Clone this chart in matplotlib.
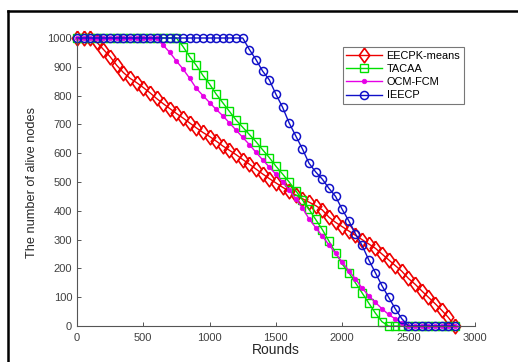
import numpy as np
import matplotlib
matplotlib.use('Agg')
from matplotlib import pyplot as plt
from matplotlib.lines import Line2D

# rounds sampled every 50 rounds (0 .. 2850)
rounds = [0, 50, 100, 150, 200, 250, 300, 350, 400, 450,
          500, 550, 600, 650, 700, 750, 800, 850, 900, 950,
          1000, 1050, 1100, 1150, 1200, 1250, 1300, 1350, 1400, 1450,
          1500, 1550, 1600, 1650, 1700, 1750, 1800, 1850, 1900, 1950,
          2000, 2050, 2100, 2150, 2200, 2250, 2300, 2350, 2400, 2450,
          2500, 2550, 2600, 2650, 2700, 2750, 2800, 2850]

eecpk = [1000, 1000, 1000, 985, 960, 935, 905, 880, 860, 845,
         828, 810, 790, 772, 755, 738, 722, 705, 688, 672,
         658, 642, 625, 610, 595, 578, 562, 545, 528, 512,
         497, 482, 468, 455, 442, 430, 418, 403, 378, 360,
         345, 330, 315, 300, 285, 270, 250, 230, 210, 190,
         165, 145, 122, 100, 78, 55, 30, 0]

tacaa = [1000, 1000, 1000, 1000, 1000, 1000, 1000, 1000, 1000, 1000,
         1000, 1000, 1000, 1000, 1000, 1000, 970, 935, 905, 870,
         840, 805, 775, 745, 715, 690, 665, 640, 612, 585,
         555, 528, 500, 470, 438, 405, 370, 335, 295, 255,
         215, 185, 150, 115, 80, 45, 15, 0, 0, 0,
         0, 0, 0, 0, 0, 0, 0, 0]

ocm_fcm = [1000, 1000, 1000, 1000, 1000, 1000, 1000, 1000, 1000, 1000,
           1000, 1000, 1000, 975, 950, 920, 892, 860, 825, 800,
           776, 752, 730, 705, 680, 655, 630, 603, 577, 552,
           527, 500, 472, 442, 410, 372, 342, 312, 282, 252,
           222, 192, 163, 132, 105, 82, 60, 40, 25, 10,
           0, 0, 0, 0, 0, 0, 0, 0]

ieecp = [1000, 1000, 1000, 1000, 1000, 1000, 1000, 1000, 1000, 1000,
         1000, 1000, 1000, 1000, 1000, 1000, 1000, 1000, 1000, 1000,
         1000, 1000, 1000, 1000, 1000, 1000, 960, 925, 885, 855,
         805, 760, 705, 660, 615, 565, 535, 510, 478, 450,
         405, 365, 320, 280, 230, 185, 140, 100, 60, 25,
         0, 0, 0, 0, 0, 0, 0, 0]

labels = ['EECPK-means', 'TACAA', 'OCM-FCM', 'IEECP']

plt.rcParams['font.family'] = ['Liberation Sans', 'DejaVu Sans']

# slightly tall diamond, like the stretched MATLAB marker
tall_diamond = [(0, 1), (0.72, 0), (0, -1), (-0.72, 0), (0, 1)]

fig = plt.figure(figsize=(5.18, 3.62), dpi=100)
ax = fig.add_axes([0.1486, 0.0994, 0.768, 0.7956])

ax.plot(rounds, eecpk, color='#ee0000', marker=tall_diamond, markersize=10.5, fillstyle='none',
        markeredgewidth=1.2, linewidth=1.0, label=labels[0], clip_on=False)
ax.plot(rounds, tacaa, color='#00e000', marker='s', markersize=5.5, fillstyle='none',
        markeredgewidth=1.0, linewidth=1.0, label=labels[1], clip_on=False)
ax.plot(rounds, ocm_fcm, color='#e600e6', marker='o', markersize=3.3,
        markeredgewidth=0.5, linewidth=1.0, label=labels[2], clip_on=False)
ax.plot(rounds, ieecp, color='#1010c8', marker='o', markersize=5.8, fillstyle='none',
        markeredgewidth=1.1, linewidth=1.0, label=labels[3], clip_on=False)

ax.set_xlim(0, 3000)
ax.set_ylim(0, 1000)
ax.set_xticks([0, 500, 1000, 1500, 2000, 2500, 3000])
ax.set_yticks(np.arange(0, 1001, 100))

for side in ['top', 'right']:
    ax.spines[side].set_visible(False)
for side in ['left', 'bottom']:
    ax.spines[side].set_color('#555555')
    ax.spines[side].set_linewidth(0.8)

ax.tick_params(direction='in', length=3, width=0.7, colors='#555555',
               labelcolor='#404040', labelsize=8)
ax.tick_params(axis='x', pad=5)

ax.set_xlabel('Rounds', fontsize=10, color='#262626', labelpad=0)
ax.set_ylabel('The number of alive nodes', fontsize=9.2, color='#262626', labelpad=7)

leg = ax.legend(loc='upper left', bbox_to_anchor=(0.668, 0.968), fontsize=7.9,
                frameon=True, fancybox=False, handlelength=3.3, handletextpad=0.4,
                borderpad=0.3, labelspacing=0.3, borderaxespad=0)
leg.get_frame().set_edgecolor('#555555')
leg.get_frame().set_linewidth(0.8)

# outer screenshot frame (left and top edges)
fig.add_artist(Line2D([8 / 518, 8 / 518], [0, 1 - 11 / 362], transform=fig.transFigure,
                      color='black', linewidth=1.8))
fig.add_artist(Line2D([8 / 518, 1], [1 - 11 / 362, 1 - 11 / 362], transform=fig.transFigure,
                      color='black', linewidth=1.8))

plt.savefig('out.png', dpi=100)
